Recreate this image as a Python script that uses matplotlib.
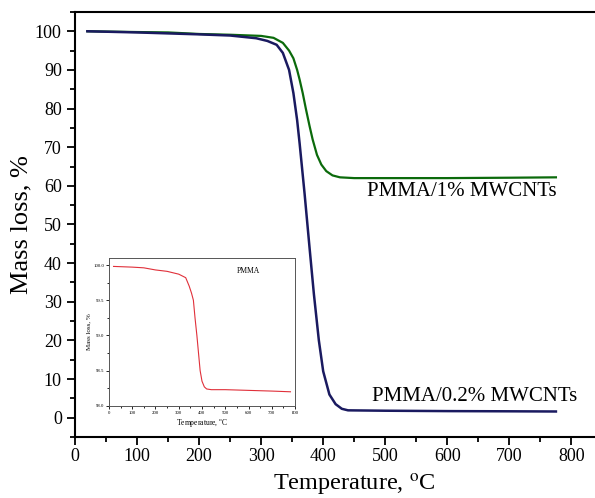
import matplotlib
matplotlib.use('Agg')
import matplotlib.pyplot as plt
from matplotlib.ticker import MultipleLocator, FormatStrFormatter

plt.rcParams['font.family'] = ['Liberation Serif', 'DejaVu Serif']
plt.rcParams['mathtext.fontset'] = 'stix'

# PMMA/0.2% MWCNTs (blue)
t_02 = [20, 100, 200, 250, 292, 310, 325, 335, 345, 352, 358, 362, 370, 378,
        385, 393, 400, 410, 420, 430, 440, 500, 600, 700, 775]
m_02 = [100.0, 99.7, 99.2, 98.9, 98.2, 97.5, 96.5, 94.4, 90.0, 84.0, 77.0, 71.0,
        58.0, 44.0, 32.0, 20.0, 12.0, 6.0, 3.5, 2.3, 1.9, 1.8, 1.7, 1.65, 1.6]

# PMMA/1% MWCNTs (green)
t_1 = [20, 100, 150, 200, 250, 300, 320, 335, 345, 352, 358, 362, 367, 372, 378,
       383, 390, 397, 405, 415, 427, 450, 600, 700, 775]
m_1 = [100.0, 99.8, 99.7, 99.3, 99.1, 98.8, 98.3, 97.0, 95.0, 93.0, 90.0, 87.5,
       84.0, 80.0, 75.5, 72.0, 68.0, 65.5, 63.8, 62.7, 62.2, 62.0, 62.0, 62.1, 62.2]

# neat PMMA (inset, red)
t_p = [20, 100, 150, 200, 250, 300, 330, 345, 355, 363, 370, 378, 385, 392, 400,
       410, 420, 440, 500, 600, 700, 780]
m_p = [99.98, 99.97, 99.96, 99.93, 99.91, 99.87, 99.82, 99.7, 99.6, 99.5, 99.25,
       99.0, 98.75, 98.5, 98.35, 98.27, 98.24, 98.23, 98.23, 98.22, 98.21, 98.2]

fig = plt.figure(figsize=(5.95, 4.98), dpi=100)
ax = fig.add_axes([0.126, 0.1225, 0.874, 0.8535])

ax.plot(t_1, m_1, color='#0b6a0b', lw=1.6)
ax.plot(t_02, m_02, color='#1a1a60', lw=1.8)

ax.set_xlim(0, 838)
ax.set_ylim(-5, 105)
ax.xaxis.set_major_locator(MultipleLocator(100))
ax.xaxis.set_minor_locator(MultipleLocator(50))
ax.yaxis.set_major_locator(MultipleLocator(10))
ax.yaxis.set_minor_locator(MultipleLocator(5))
ax.tick_params(which='both', direction='out', width=1.3, labelsize=13)
ax.tick_params(which='major', length=6)
ax.tick_params(which='minor', length=3.5)
ax.tick_params(axis='x', pad=2)
for s in ['left', 'bottom', 'top']:
    ax.spines[s].set_linewidth(1.5)
ax.spines['right'].set_visible(False)

ax.set_xlabel('Temperature, $^{\\mathrm{o}}$C', fontsize=17.5)
ax.xaxis.set_label_coords(0.538, -0.083)
ax.set_ylabel('Mass loss, %', fontsize=19)
ax.yaxis.set_label_coords(-0.082, 0.5)

ax.text(470, 58.5, 'PMMA/1% MWCNTs', fontsize=15, va='center', ha='left')
ax.text(478, 5.6, 'PMMA/0.2% MWCNTs', fontsize=15, va='center', ha='left')

# inset
ins = fig.add_axes([0.183, 0.185, 0.313, 0.297])
ins.plot(t_p, m_p, color='#e0303a', lw=0.8)
ins.set_xlim(0, 800)
ins.set_ylim(98.0, 100.1)
ins.xaxis.set_major_locator(MultipleLocator(100))
ins.xaxis.set_minor_locator(MultipleLocator(50))
ins.yaxis.set_major_locator(MultipleLocator(0.5))
ins.yaxis.set_minor_locator(MultipleLocator(0.25))
ins.yaxis.set_major_formatter(FormatStrFormatter('%.1f'))
ins.tick_params(which='both', direction='out', width=0.6, labelsize=3.5, pad=1.5)
ins.tick_params(which='major', length=2)
ins.tick_params(which='minor', length=1.2)
for s in ins.spines.values():
    s.set_linewidth(0.7)
    s.set_color('#555555')
ins.set_xlabel('Temperature, $^{\\mathrm{o}}$C', fontsize=5.5, labelpad=1.5)
ins.set_ylabel('Mass loss, %', fontsize=5, labelpad=1)
ins.text(0.75, 0.9, 'PMMA', fontsize=5.5, transform=ins.transAxes, ha='center')

fig.savefig('out.png', dpi=100)
